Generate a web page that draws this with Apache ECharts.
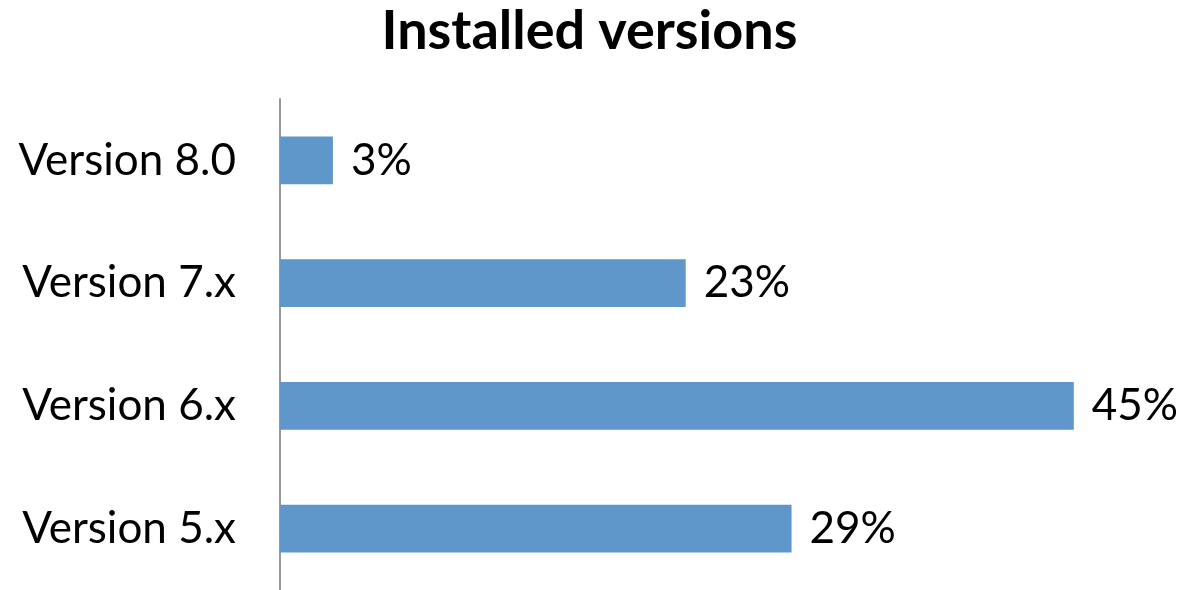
<!DOCTYPE html>
<html>
<head>
<meta charset="utf-8">
<script src="https://cdn.jsdelivr.net/npm/echarts@6/dist/echarts.min.js"></script>
<style>
  html, body { margin: 0; padding: 0; background: #fff; }
  #chart { width: 1179px; height: 590px; }
</style>
</head>
<body>
<div id="chart"></div>
<script>
// categories / values (percent)
var categories = ["Version 8.0", "Version 7.x", "Version 6.x", "Version 5.x"];
var shares = [3, 23, 45, 29];

var myChart = echarts.init(document.getElementById("chart"));
var option = {
  animation: false,
  title: {
    text: "Installed versions",
    left: "center",
    top: 0,
    textStyle: {
      fontFamily: "Lato",
      fontWeight: "bold",
      fontSize: 54,
      color: "#000",
    },
  },
  grid: {
    left: 280,
    right: 17,
    top: 99,
    bottom: -6,
  },
  xAxis: {
    type: "value",
    min: 0,
    max: 50,
    show: false,
  },
  yAxis: {
    type: "category",
    inverse: true,
    data: categories,
    axisTick: { show: false },
    axisLine: {
      show: true,
      lineStyle: { color: "#999", width: 2 },
    },
    axisLabel: {
      margin: 44,
      fontFamily: "Lato",
      fontSize: 44,
      color: "#000",
    },
  },
  series: [
    {
      type: "bar",
      data: shares,
      barWidth: "39%",
      itemStyle: { color: "#6097CA" },
      label: {
        show: true,
        position: "right",
        distance: 18,
        formatter: "{c}%",
        fontFamily: "Lato",
        fontSize: 44,
        color: "#000",
      },
    },
  ],
};
myChart.setOption(option);
</script>
</body>
</html>
